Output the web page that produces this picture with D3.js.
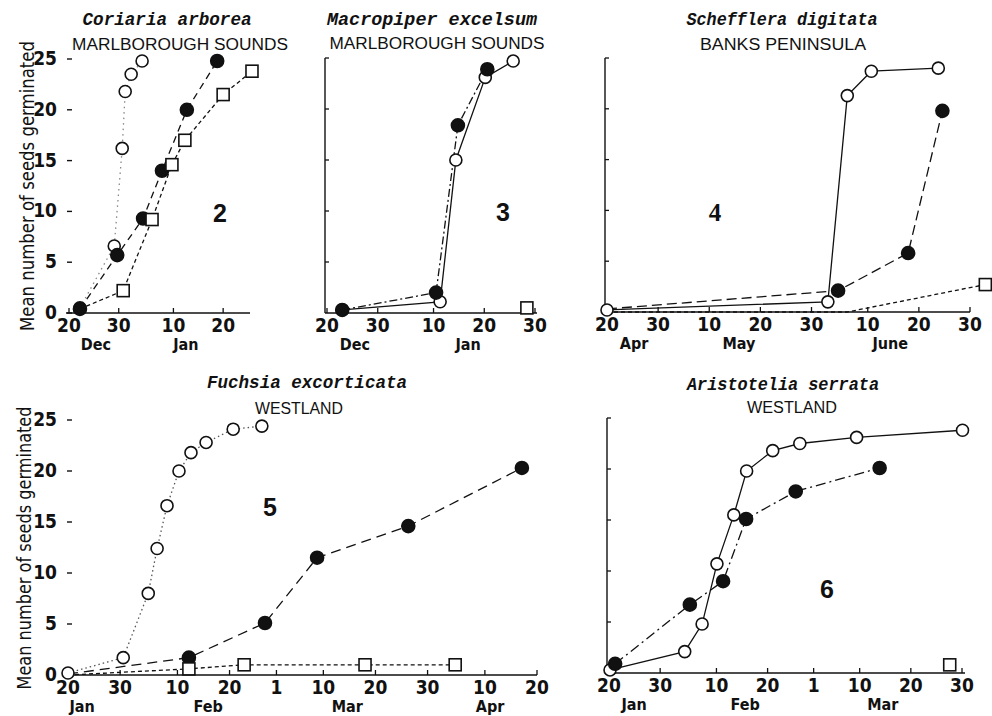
<!DOCTYPE html>
<html>
<head>
<meta charset="utf-8">
<script src="https://cdn.jsdelivr.net/npm/d3@7"></script>
<style>
  body { margin: 0; background: #fff; }
  svg { display: block; }
  .num { font-family: "Liberation Sans Narrow", "DejaVu Sans Condensed", "Liberation Sans", sans-serif; font-weight: bold; font-size: 19px; fill: #111; }
  .month { font-family: "Liberation Sans Narrow", "DejaVu Sans Condensed", "Liberation Sans", sans-serif; font-weight: bold; font-size: 16px; fill: #111; }
  .title { font-family: "Liberation Mono", "DejaVu Sans Mono", monospace; font-style: italic; font-weight: bold; font-size: 18px; fill: #111; }
  .sub { font-family: "Liberation Sans", Arial, sans-serif; font-size: 16px; fill: #111; }
  .ylab { font-family: "Liberation Sans Narrow", "DejaVu Sans Condensed", "Liberation Sans", sans-serif; font-size: 20px; fill: #111; }
  .pnum { font-family: "Liberation Sans", Arial, sans-serif; font-weight: bold; font-size: 25px; fill: #111; }
  .pnum.serif { font-family: "Liberation Serif", serif; }
</style>
</head>
<body>
<svg width="992" height="716"></svg>
<script>
// days counted from the first labelled tick of each panel
const yTicks = [0, 5, 10, 15, 20, 25];

// 2 Coriaria arborea
const p2Ticks = [0, 10, 21, 31];
const p2TickLabels = ["20", "30", "10", "20"];
const p2Months = ["Dec", "Jan"];
const p2MonthDays = [5.4, 23.5];
const p2OpenDay = [2.2, 9.1, 10.7, 11.3, 12.5, 14.7];
const p2OpenVal = [0.5, 6.6, 16.2, 21.8, 23.5, 24.8];
const p2FilledDay = [2.2, 9.7, 14.9, 18.7, 23.7, 29.8];
const p2FilledVal = [0.4, 5.7, 9.3, 14.0, 20.0, 24.8];
const p2SquareDay = [2.2, 10.9, 16.7, 20.7, 23.3, 31.0, 36.8];
const p2SquareVal = [0.4, 2.2, 9.2, 14.6, 17.0, 21.5, 23.8];

// 3 Macropiper excelsum
const p3Ticks = [0, 10, 21, 31, 41];
const p3TickLabels = ["20", "30", "10", "20", "30"];
const p3Months = ["Dec", "Jan"];
const p3MonthDays = [5.5, 27.8];
const p3OpenDay = [3.0, 22.3, 25.4, 31.2, 36.7];
const p3OpenVal = [0.3, 1.1, 15.0, 23.1, 24.7];
const p3FilledDay = [3.0, 21.5, 25.8, 31.6];
const p3FilledVal = [0.3, 2.0, 18.4, 23.9];
const p3SquareDay = [39.4];
const p3SquareVal = [0.5];

// 4 Schefflera digitata
const p4Ticks = [0, 10, 20, 30, 40, 51, 61, 71];
const p4TickLabels = ["20", "30", "10", "20", "30", "10", "20", "30"];
const p4Months = ["Apr", "May", "June"];
const p4MonthDays = [5.3, 25.8, 55.4];
const p4OpenDay = [0, 43.2, 47.0, 51.7, 64.8];
const p4OpenVal = [0.2, 1.0, 21.3, 23.7, 24.0];
const p4FilledDay = [0, 45.2, 58.9, 65.6];
const p4FilledVal = [0.3, 2.1, 5.8, 19.8];
const p4SquareDay = [0, 47, 74];
const p4SquareVal = [0, 0, 2.7];

// 5 Fuchsia excorticata
const p5Ticks = [0, 10, 21, 31, 40, 49, 59, 69, 80, 90];
const p5TickLabels = ["20", "30", "10", "20", "1", "10", "20", "30", "10", "20"];
const p5Months = ["Jan", "Feb", "Mar", "Apr"];
const p5MonthDays = [2.7, 26.9, 53.6, 81];
const p5OpenDay = [0, 10.6, 15.4, 17.1, 19.0, 21.3, 23.6, 26.5, 31.7, 37.2];
const p5OpenVal = [0.2, 1.7, 8.0, 12.4, 16.6, 20.0, 21.8, 22.8, 24.1, 24.4];
const p5FilledDay = [0, 23.2, 37.8, 47.8, 65.3, 87.1];
const p5FilledVal = [0.1, 1.7, 5.1, 11.5, 14.6, 20.3];
const p5SquareDay = [0, 23.2, 33.8, 57.0, 74.3];
const p5SquareVal = [0, 0.6, 1.0, 1.0, 1.0];

// 6 Aristotelia serrata
const p6Ticks = [0, 10, 21, 31, 40, 49, 59, 69];
const p6TickLabels = ["20", "30", "10", "20", "1", "10", "20", "30"];
const p6Months = ["Jan", "Feb", "Mar"];
const p6MonthDays = [4.9, 26.6, 53.5];
const p6OpenDay = [0.2, 14.8, 18.2, 21.1, 24.4, 26.9, 32.0, 37.3, 48.4, 69.1];
const p6OpenVal = [0.3, 2.1, 4.8, 10.7, 15.5, 19.8, 21.8, 22.5, 23.1, 23.8];
const p6FilledDay = [1.2, 15.8, 22.3, 26.8, 36.5, 52.9];
const p6FilledVal = [0.9, 6.7, 9.0, 15.1, 17.8, 20.1];
const p6SquareDay = [66.6];
const p6SquareVal = [0.8];

const zip = (a, b) => a.map((d, i) => [d, b[i]]);

const panels = [
  { title: "Coriaria arborea", titleX: 167, titleW: 169, titleY: 25,
    sub: "MARLBOROUGH SOUNDS", subX: 180, subW: 216, subY: 50,
    xDom: [0, 36.4], xRange: [69, 250], axisEnd: [66, 250], y0: 313, y25: 59,
    yLabels: true, ticks: p2Ticks, tickLabels: p2TickLabels, months: p2Months, monthDays: p2MonthDays,
    num: "2", numX: 220, numY: 222,
    series: [
      { kind: "open", pts: zip(p2OpenDay, p2OpenVal), dash: "1.5,4", stroke: "#888" },
      { kind: "filled", pts: zip(p2FilledDay, p2FilledVal), dash: "7,5" },
      { kind: "square", pts: zip(p2SquareDay, p2SquareVal), dash: "4,3", markFrom: 1 }
    ] },
  { title: "Macropiper excelsum", titleX: 432, titleW: 210, titleY: 25,
    sub: "MARLBOROUGH SOUNDS", subX: 437, subW: 215, subY: 49,
    xDom: [0, 41], xRange: [327, 535], axisEnd: [325, 537], y0: 313, y25: 58,
    yLabels: false, ticks: p3Ticks, tickLabels: p3TickLabels, months: p3Months, monthDays: p3MonthDays,
    num: "3", numX: 503, numY: 221,
    series: [
      { kind: "open", pts: zip(p3OpenDay, p3OpenVal), dash: null },
      { kind: "filled", pts: zip(p3FilledDay, p3FilledVal), dash: "8,3,2,3" },
      { kind: "square", pts: zip(p3SquareDay, p3SquareVal), dash: null }
    ] },
  { title: "Schefflera digitata", titleX: 782, titleW: 191, titleY: 25,
    sub: "BANKS PENINSULA", subX: 783, subW: 166, subY: 50,
    xDom: [0, 71], xRange: [607, 970], axisEnd: [605, 970], y0: 312, y25: 58,
    yLabels: false, ticks: p4Ticks, tickLabels: p4TickLabels, months: p4Months, monthDays: p4MonthDays,
    num: "4", numX: 715, numY: 221, serif: true,
    series: [
      { kind: "open", pts: zip(p4OpenDay, p4OpenVal), dash: null },
      { kind: "filled", pts: zip(p4FilledDay, p4FilledVal), dash: "10,5", markFrom: 1 },
      { kind: "square", pts: zip(p4SquareDay, p4SquareVal), dash: "4,3", markFrom: 2 }
    ] },
  { title: "Fuchsia excorticata", titleX: 307, titleW: 200, titleY: 388,
    sub: "WESTLAND", subX: 299, subW: 88, subY: 414,
    xDom: [0, 90], xRange: [68, 537], axisEnd: [66, 537], y0: 675, y25: 420,
    yLabels: true, ticks: p5Ticks, tickLabels: p5TickLabels, months: p5Months, monthDays: p5MonthDays,
    num: "5", numX: 270, numY: 516,
    series: [
      { kind: "open", pts: zip(p5OpenDay, p5OpenVal), dash: "1.5,3", stroke: "#555" },
      { kind: "filled", pts: zip(p5FilledDay, p5FilledVal), dash: "10,6", markFrom: 1 },
      { kind: "square", pts: zip(p5SquareDay, p5SquareVal), dash: "4,3", markFrom: 1 }
    ] },
  { title: "Aristotelia serrata", titleX: 783, titleW: 192, titleY: 390,
    sub: "WESTLAND", subX: 792, subW: 90, subY: 413,
    xDom: [0, 69], xRange: [609, 962], axisEnd: [607, 965], y0: 673, y25: 418,
    yLabels: false, ticks: p6Ticks, tickLabels: p6TickLabels, months: p6Months, monthDays: p6MonthDays,
    num: "6", numX: 827, numY: 598,
    series: [
      { kind: "open", pts: zip(p6OpenDay, p6OpenVal), dash: null },
      { kind: "filled", pts: zip(p6FilledDay, p6FilledVal), dash: "10,4,2,4" },
      { kind: "square", pts: zip(p6SquareDay, p6SquareVal), dash: null }
    ] }
];

const svg = d3.select("svg");

// y axis titles
[{ x: 34, y: 186, len: 290 }, { x: 31, y: 548, len: 283 }].forEach(function(t) {
  svg.append("text").attr("class", "ylab")
    .attr("transform", `translate(${t.x},${t.y}) rotate(-90)`)
    .attr("text-anchor", "middle")
    .attr("textLength", t.len).attr("lengthAdjust", "spacingAndGlyphs")
    .text("Mean number of seeds germinated");
});

panels.forEach(function(p) {
  const x = d3.scaleLinear().domain(p.xDom).range(p.xRange);
  const y = d3.scaleLinear().domain([0, 25]).range([p.y0, p.y25]);
  const g = svg.append("g");

  // titles
  g.append("text").attr("class", "title")
    .attr("x", p.titleX).attr("y", p.titleY).attr("text-anchor", "middle")
    .attr("textLength", p.titleW).attr("lengthAdjust", "spacingAndGlyphs")
    .text(p.title);
  g.append("text").attr("class", "sub")
    .attr("x", p.subX).attr("y", p.subY).attr("text-anchor", "middle")
    .attr("textLength", p.subW).attr("lengthAdjust", "spacingAndGlyphs")
    .text(p.sub);

  // x axis
  g.append("line")
    .attr("x1", p.axisEnd[0]).attr("x2", p.axisEnd[1])
    .attr("y1", p.y0).attr("y2", p.y0)
    .attr("stroke", "#111").attr("stroke-width", 1.6);
  g.selectAll(".xt").data(p.ticks).enter().append("line")
    .attr("x1", d => x(d)).attr("x2", d => x(d))
    .attr("y1", p.y0).attr("y2", p.y0 - 5)
    .attr("stroke", "#111").attr("stroke-width", 1.3);
  g.selectAll(".xl").data(p.ticks).enter().append("text")
    .attr("class", "num")
    .attr("x", d => x(d)).attr("y", p.y0 + 19)
    .attr("text-anchor", "middle")
    .text((d, i) => p.tickLabels[i]);
  g.selectAll(".ml").data(p.monthDays).enter().append("text")
    .attr("class", "month")
    .attr("x", d => x(d)).attr("y", p.y0 + 37)
    .attr("text-anchor", "middle")
    .text((d, i) => p.months[i]);

  // y axis
  if (p.yLabels) {
    g.selectAll(".yt").data(yTicks).enter().append("line")
      .attr("x1", 67).attr("x2", 72)
      .attr("y1", d => y(d)).attr("y2", d => y(d))
      .attr("stroke", "#111").attr("stroke-width", 1.4);
    g.selectAll(".yl").data(yTicks).enter().append("text")
      .attr("class", "num")
      .attr("x", 57).attr("y", d => y(d) + 6)
      .attr("text-anchor", "end")
      .text(d => d);
  } else {
    const ax = p.axisEnd[0];
    g.append("line")
      .attr("x1", ax).attr("x2", ax)
      .attr("y1", y(0)).attr("y2", y(25))
      .attr("stroke", "#111").attr("stroke-width", 1.4);
    g.selectAll(".yt").data(yTicks.slice(1)).enter().append("line")
      .attr("x1", ax).attr("x2", ax + 4)
      .attr("y1", d => y(d)).attr("y2", d => y(d))
      .attr("stroke", "#111").attr("stroke-width", 1.3);
  }

  // panel number
  g.append("text").attr("class", p.serif ? "pnum serif" : "pnum")
    .attr("x", p.numX).attr("y", p.numY).attr("text-anchor", "middle")
    .text(p.num);

  // lines
  const line = d3.line().x(d => x(d[0])).y(d => y(d[1]));
  p.series.forEach(function(s) {
    if (s.pts.length < 2) return;
    g.append("path")
      .attr("d", line(s.pts))
      .attr("fill", "none")
      .attr("stroke", s.stroke || "#111")
      .attr("stroke-width", 1.3)
      .attr("stroke-dasharray", s.dash);
  });

  // markers: open, then filled, then squares on top
  p.series.forEach(function(s) {
    const pts = s.pts.slice(s.markFrom || 0);
    if (s.kind === "square") {
      g.selectAll(null).data(pts).enter().append("rect")
        .attr("x", d => x(d[0]) - 6).attr("y", d => y(d[1]) - 6)
        .attr("width", 12).attr("height", 12)
        .attr("fill", "#fff").attr("stroke", "#111").attr("stroke-width", 1.6);
    } else {
      g.selectAll(null).data(pts).enter().append("circle")
        .attr("cx", d => x(d[0])).attr("cy", d => y(d[1]))
        .attr("r", s.kind === "filled" ? 6.5 : 6)
        .attr("fill", s.kind === "filled" ? "#111" : "#fff")
        .attr("stroke", "#111").attr("stroke-width", 1.6);
    }
  });
});
</script>
</body>
</html>
